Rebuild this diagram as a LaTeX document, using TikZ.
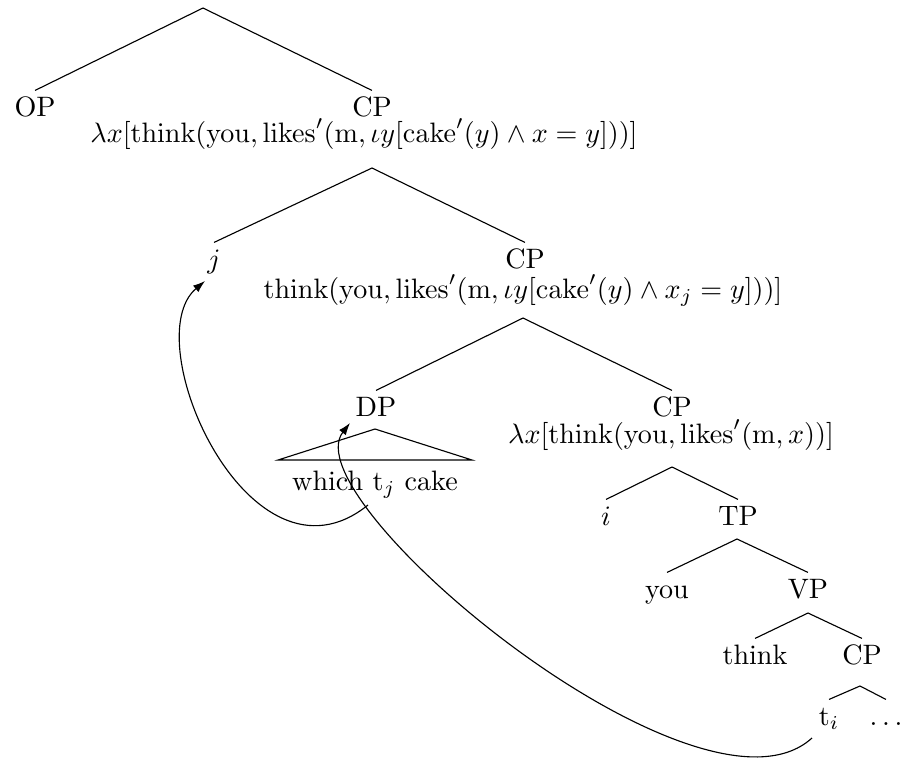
\documentclass[tikz,border=0pt]{standalone}
\usetikzlibrary{arrows.meta}
\begin{document}
\begin{tikzpicture}[x=0.356pt,y=-0.356pt,
  lab/.style={anchor=base, inner sep=0pt, text height=8.9pt},
  sem/.style={anchor=base, inner sep=0pt},
  edge/.style={draw, line width=0.4pt},
  mv/.style={draw, line width=0.4pt, -{Latex[length=4.3pt,width=3pt]}}]
\useasboundingbox (0,0) rectangle (909,757);
% apex coordinates
\coordinate (r0) at (203,8);
\coordinate (a1) at (372,168);
\coordinate (a2) at (523,318);
\coordinate (a3) at (672,467);
\coordinate (a4) at (737,539);
\coordinate (a5) at (808,613);
\coordinate (a6) at (860,686);
% nodes
\node[lab] (op) at (35,116) {OP};
\node[lab] (cp1) at (372,116) {CP};
\node[sem] (f1) at (364,142) {$\lambda x[\mathrm{think}(\mathrm{you},\mathrm{likes}'(\mathrm{m},\iota y[\mathrm{cake}'(y)\wedge x=y]))]$};
\node[lab] (j) at (214,268) {$j$};
\node[lab] (cp2) at (525,268) {CP};
\node[sem] (f2) at (523,298) {$\mathrm{think}(\mathrm{you},\mathrm{likes}'(\mathrm{m},\iota y[\mathrm{cake}'(y)\wedge x_j=y]))]$};
\node[lab] (dp) at (376,416) {DP};
\node[lab] (cp3) at (672,416) {CP};
\node[sem] (f3) at (671,443) {$\lambda x[\mathrm{think}(\mathrm{you},\mathrm{likes}'(\mathrm{m},x))]$};
\node[sem] (wtc) at (375,490) {which t$_j$ cake};
\node[lab] (i) at (606,525) {$i$};
\node[lab] (tp) at (738,525) {TP};
\node[lab] (you) at (667,598) {you};
\node[lab] (vp) at (808,598) {VP};
\node[lab] (think) at (755,664) {think};
\node[lab] (cp4) at (862,664) {CP};
\node[lab] (ti) at (829,725) {t$_i$};
\node[lab] (dots) at (886,725) {$\ldots$};
% triangle
\coordinate (tl) at (278,460);
\coordinate (tr) at (472,460);
\coordinate (tt) at (375,429);
\draw[edge] (tl) -- (tt) -- (tr) -- cycle;
% edges
\draw[edge] (op.north) -- (r0) -- (cp1.north);
\draw[edge] (j.north) -- (a1) -- (cp2.north);
\draw[edge] (dp.north) -- (a2) -- (cp3.north);
\draw[edge] (i.north) -- (a3) -- (tp.north);
\draw[edge] (you.north) -- (a4) -- (vp.north);
\draw[edge] (think.north) -- (a5) -- (cp4.north);
\draw[edge] (ti.north) -- (a6) -- (dots.north);
% movement arrows
\coordinate (m1s) at (368,505);
\coordinate (m1e) at (205,281);
\coordinate (m2s) at (812,738);
\coordinate (m2e) at (350,423);
\draw[mv] (m1s) .. controls (250,600) and (135,340) .. (m1e);
\draw[mv] (m2s) .. controls (700,840) and (290,500) .. (m2e);
\end{tikzpicture}
\end{document}
